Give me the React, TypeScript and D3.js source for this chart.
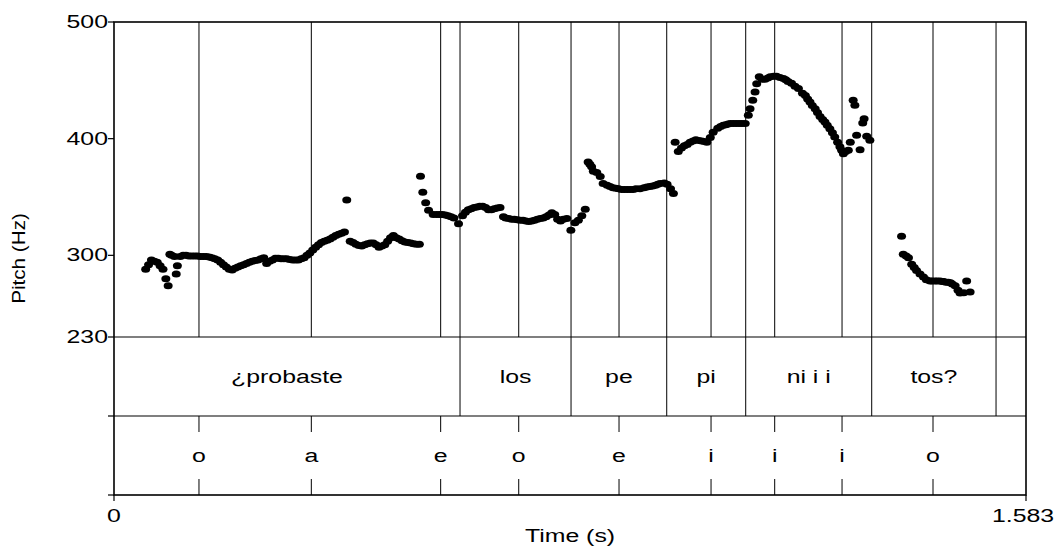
import * as d3 from "d3";

// pitch track (s, Hz), one pair of arrays per voiced stretch
const seg1Times = [
  0.055, 0.06, 0.065, 0.07, 0.075, 0.08, 0.085, 0.09, 0.094, 0.097, 0.1, 0.105, 0.108, 0.11, 0.115,
  0.12, 0.125, 0.13, 0.135, 0.14, 0.145, 0.15, 0.155, 0.16, 0.165, 0.17, 0.175, 0.18, 0.185, 0.19,
  0.195, 0.2, 0.205, 0.21, 0.215, 0.22, 0.225, 0.23, 0.235, 0.24, 0.245, 0.25, 0.255, 0.26, 0.265,
  0.27, 0.275, 0.28, 0.285, 0.29, 0.295, 0.3, 0.305, 0.31, 0.315, 0.32, 0.325, 0.33, 0.335, 0.34,
  0.345, 0.35, 0.355, 0.36, 0.365, 0.37, 0.375, 0.38, 0.385, 0.39, 0.395, 0.4, 0.404, 0.41, 0.415,
  0.42, 0.425, 0.43, 0.435, 0.44, 0.445, 0.45, 0.455, 0.46, 0.465, 0.47, 0.475, 0.48, 0.485, 0.49,
  0.495, 0.5, 0.505, 0.51, 0.515, 0.52, 0.525, 0.53,
];
const seg1Values = [
  288, 292, 296, 295, 294, 291, 288, 280, 274, 301, 300, 299, 284, 291, 299,
  300, 300, 299.5, 299.5, 299.5, 299.5, 299, 299, 299, 298.5, 298, 297, 296, 294, 292,
  290, 288, 287.5, 289, 290, 291, 292, 293, 294, 295, 295.5, 296, 297, 298, 293,
  295, 296, 297.5, 297.5, 297, 297, 297, 296.5, 296, 296, 296, 297, 298, 300, 302,
  304.5, 307, 309, 311, 312, 313, 314, 315.5, 317, 318, 319, 320, 347.5, 312, 311,
  309.5, 308.5, 308, 309, 310, 310.5, 310.5, 309, 307, 308, 309, 312, 315, 317, 315,
  314, 312.5, 311.5, 311, 310.5, 310, 309.5, 309.5,
];
const seg2Times = [
  0.532, 0.536, 0.541, 0.546, 0.554, 0.56, 0.565, 0.57, 0.575, 0.58, 0.585, 0.59, 0.598, 0.605,
  0.61, 0.615, 0.62, 0.625, 0.63, 0.635, 0.64, 0.645, 0.65, 0.655, 0.66, 0.665, 0.67, 0.676, 0.68,
  0.685, 0.69, 0.695, 0.7, 0.705, 0.71, 0.715, 0.72, 0.725, 0.73, 0.735, 0.74, 0.745, 0.75, 0.755,
  0.76, 0.765, 0.77, 0.775, 0.78, 0.786, 0.793, 0.8, 0.806, 0.812, 0.818,
];
const seg2Values = [
  367.7, 354, 345, 338.6, 335, 335, 335, 335, 334.5, 334, 333, 332, 327, 334,
  337, 339, 340, 341, 341.5, 342, 342, 341, 339, 339, 340, 340.5, 341, 333, 332,
  331.5, 331, 331, 330.5, 330, 330, 329.5, 329, 329.5, 330, 331, 331.5, 332, 333, 334.5,
  336.5, 335, 331, 329.5, 331, 331.5, 321.5, 328, 330, 334, 339.5,
];
const seg3Times = [
  0.823, 0.826, 0.829, 0.832, 0.838, 0.844, 0.849, 0.856, 0.861, 0.866, 0.871, 0.876, 0.881, 0.886,
  0.891, 0.896, 0.901, 0.906, 0.913, 0.92, 0.925, 0.93, 0.935, 0.94, 0.944, 0.948, 0.955, 0.96,
  0.966, 0.971,
];
const seg3Values = [
  380, 378, 376, 372, 371, 367.5, 361.5, 360, 359, 358, 357.5, 357, 356.5, 356.5,
  356.5, 356.5, 356.5, 357, 357, 358, 358.5, 359, 359.5, 360, 361, 361.5, 362, 361,
  357, 353,
];
const seg4Times = [
  0.974, 0.9795, 0.985, 0.99, 0.995, 1.0, 1.005, 1.01, 1.015, 1.02, 1.025, 1.029, 1.035, 1.04,
  1.048, 1.053, 1.0576, 1.062, 1.066, 1.07, 1.075, 1.08, 1.085, 1.09, 1.0956, 1.101, 1.104, 1.1087,
  1.1127, 1.1156, 1.12, 1.125, 1.13, 1.135, 1.139, 1.145, 1.15, 1.156, 1.162, 1.166, 1.17, 1.176,
  1.182, 1.188, 1.195, 1.2, 1.204, 1.208, 1.212, 1.217, 1.221, 1.2255, 1.23, 1.234, 1.238, 1.2425,
  1.247, 1.251, 1.256, 1.26, 1.263, 1.266, 1.27, 1.2746, 1.278, 1.283, 1.286, 1.289, 1.295, 1.2996,
  1.302, 1.3065, 1.312,
];
const seg4Values = [
  397, 389, 392, 394, 395, 397, 398, 399, 398.5, 398, 397.5, 397, 401, 405.5,
  409, 410.5, 411.5, 412, 412.5, 413, 413, 413, 413, 413, 413, 420, 425.7, 433,
  440, 447, 453, 451, 451, 452, 453, 453.5, 453.5, 452.5, 451.5, 450.5, 449, 447.5,
  445, 443, 439, 437, 434, 431.5, 428.5, 425.7, 422.5, 419, 416.5, 414.3, 411.5, 408.6,
  405, 401.4, 397, 393, 390, 387, 389, 390, 397, 433, 428.6, 403, 390.6, 413.4,
  417, 402, 398.6,
];
const seg5Times = [
  1.367, 1.37, 1.375, 1.379, 1.3846, 1.389, 1.393, 1.399, 1.405, 1.41, 1.4164, 1.42, 1.425, 1.429,
  1.4338, 1.438, 1.44, 1.444, 1.448, 1.452, 1.455, 1.46, 1.465, 1.4685, 1.475, 1.48, 1.486,
];
const seg5Values = [
  316.3, 301, 299.5, 298, 292.3, 289.5, 287, 284, 281.4, 279, 278, 278, 278, 278,
  278, 277.5, 277.5, 277, 277, 276.5, 275.5, 274, 270, 267.7, 268, 278, 268.6,
];

// word tier (interval boundaries) and vowel tier (points)
const wordLabels = ["¿probaste", "los", "pe", "pi", "ni i i", "tos?", ""];
const wordBounds = [0, 0.6006, 0.7933, 0.9594, 1.0965, 1.3152, 1.531, 1.583];
const vowelLabels = ["o", "a", "e", "o", "e", "i", "i", "i", "o"];
const vowelTimes = [0.1475, 0.3425, 0.567, 0.7025, 0.8766, 1.0363, 1.1468, 1.2637, 1.4216];

const pitchTicks = [230, 300, 400, 500];
const timeTicks = [0, 1.583];

const W = 1060;
const H = 547;
const left = 114;
const right = 1026;
const top = 22;
const pitchBottom = 337;
const tier1Bottom = 416;
const bottom = 495;

const FONT = "'Liberation Sans', Arial, Helvetica, sans-serif";
const FS = 18;
const SX = 1.38;

function Txt({ x, y, anchor = "middle", children }: any) {
  return (
    <text
      transform={`translate(${x},${y}) scale(${SX},1)`}
      textAnchor={anchor}
      fontFamily={FONT}
      fontSize={FS}
      fill="#000"
    >
      {children}
    </text>
  );
}

export default function App() {
  const x = d3.scaleLinear().domain([0, 1.583]).range([left, right]);
  const y = d3.scaleLinear().domain([230, 500]).range([pitchBottom, top]);

  const segs = [
    [seg1Times, seg1Values],
    [seg2Times, seg2Values],
    [seg3Times, seg3Values],
    [seg4Times, seg4Values],
    [seg5Times, seg5Values],
  ];
  const points = segs.flatMap(([ts, vs]) => ts.map((t, i) => ({ t, f: vs[i] })));
  const innerBounds = wordBounds.slice(1, -1);
  const allLines = [...innerBounds, ...vowelTimes];

  const tier1Mid = (pitchBottom + tier1Bottom) / 2;
  const tier2Mid = (tier1Bottom + bottom) / 2;

  return (
    <svg
      width={W}
      height={H}
      style={{ position: "absolute", left: 0, top: 0, background: "#fff" }}
    >
      {/* lines through the pitch area */}
      {allLines.map((t, i) => (
        <line key={"pl" + i} x1={x(t)} x2={x(t)} y1={top} y2={pitchBottom} stroke="#000" strokeWidth={1} />
      ))}
      {/* word boundaries in tier 1 */}
      {innerBounds.map((t, i) => (
        <line key={"wb" + i} x1={x(t)} x2={x(t)} y1={pitchBottom} y2={tier1Bottom} stroke="#000" strokeWidth={1} />
      ))}
      {/* vowel point ticks in tier 2 */}
      {vowelTimes.map((t, i) => (
        <g key={"vt" + i}>
          <line x1={x(t)} x2={x(t)} y1={tier1Bottom} y2={tier1Bottom + 16} stroke="#000" strokeWidth={1} />
          <line x1={x(t)} x2={x(t)} y1={bottom - 16} y2={bottom} stroke="#000" strokeWidth={1} />
        </g>
      ))}

      {/* pitch dots */}
      {points.map((d, i) => (
        <ellipse key={"p" + i} cx={x(d.t)} cy={y(d.f)} rx={4.5} ry={3.5} fill="#000" />
      ))}

      {/* frame and tier separators */}
      <rect x={left} y={top} width={right - left} height={bottom - top} fill="none" stroke="#000" strokeWidth={1.6} />
      <line x1={left} x2={right} y1={pitchBottom} y2={pitchBottom} stroke="#000" strokeWidth={1.2} />
      <line x1={left} x2={right} y1={tier1Bottom} y2={tier1Bottom} stroke="#000" strokeWidth={1.2} />

      {/* word labels */}
      {wordLabels.map((w, i) => (
        <Txt key={"w" + i} x={(x(wordBounds[i]) + x(wordBounds[i + 1])) / 2} y={tier1Mid + 6.5}>
          {w}
        </Txt>
      ))}
      {/* vowel labels */}
      {vowelLabels.map((v, i) => (
        <Txt key={"v" + i} x={x(vowelTimes[i])} y={tier2Mid + 6.5}>
          {v}
        </Txt>
      ))}

      {/* left axis */}
      {pitchTicks.map((p) => (
        <g key={"yt" + p}>
          <line x1={left - 6} x2={left} y1={y(p)} y2={y(p)} stroke="#000" strokeWidth={1.2} />
          <Txt x={left - 6} y={y(p) + 6} anchor="end">
            {p}
          </Txt>
        </g>
      ))}
      {[tier1Bottom, bottom].map((yy) => (
        <line key={"ty" + yy} x1={left - 6} x2={left} y1={yy} y2={yy} stroke="#000" strokeWidth={1.2} />
      ))}
      <text
        transform={`translate(25,${(top + bottom) / 2}) rotate(-90) scale(1.15,1)`}
        textAnchor="middle"
        fontFamily={FONT}
        fontSize={FS}
      >
        Pitch (Hz)
      </text>

      {/* bottom axis */}
      {timeTicks.map((t) => (
        <g key={"xt" + t}>
          <line x1={x(t)} x2={x(t)} y1={bottom} y2={bottom + 6} stroke="#000" strokeWidth={1.2} />
          <Txt x={x(t) - (t > 0 ? 3 : 0)} y={522}>
            {t === 0 ? "0" : d3.format(".3f")(t)}
          </Txt>
        </g>
      ))}
      <Txt x={(left + right) / 2} y={542}>
        Time (s)
      </Txt>
    </svg>
  );
}
